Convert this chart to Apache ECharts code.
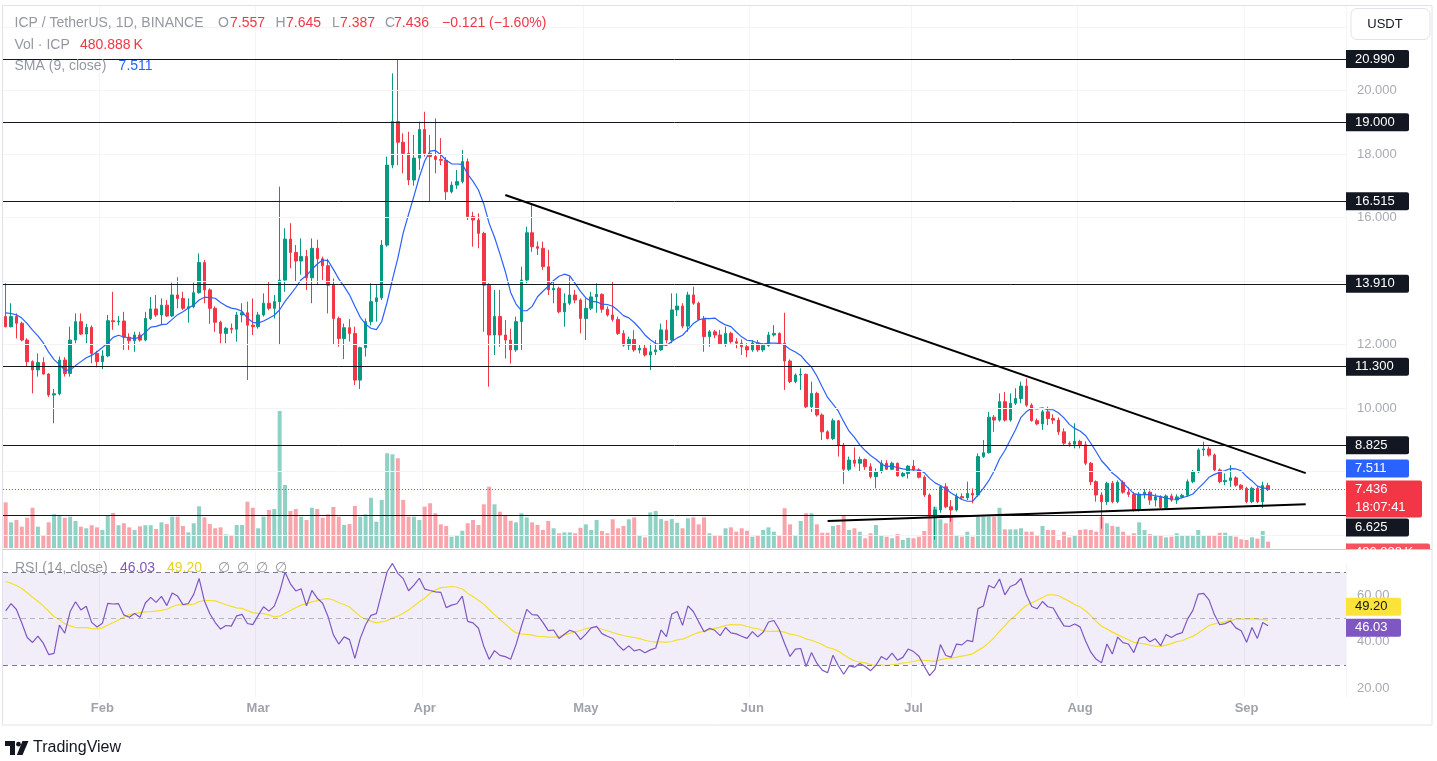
<!DOCTYPE html>
<html><head><meta charset="utf-8">
<script src="https://cdn.jsdelivr.net/npm/echarts@6/dist/echarts.min.js"></script>
<style>html,body{margin:0;padding:0;background:#fff;}#c{width:1437px;height:761px;}</style>
</head><body><div id="c"></div>
<script>
// ---------- data ----------
const startDate = '2024-01-14';
const totalDays = 250; // trading days plus empty future days on the time axis
const open = [
12.88,12.56,12.88,12.67,12.14,11.46,11.20,11.43,11.07,10.41,
10.45,11.51,11.09,12.14,12.72,12.33,12.54,11.72,11.46,11.64,
12.75,12.72,12.74,12.23,12.12,12.30,12.14,12.82,13.12,12.93,
13.24,12.90,13.56,13.45,13.14,13.19,13.63,14.58,13.72,13.14,
12.70,12.35,12.51,12.48,12.93,13.00,12.61,12.56,12.93,13.30,
13.14,13.35,14.03,15.32,14.90,14.63,14.77,14.10,15.03,14.70,
14.48,13.87,12.82,12.19,12.53,12.35,10.88,11.90,12.72,13.35,
13.47,15.13,17.65,19.02,18.37,18.02,17.18,17.87,18.77,18.02,
17.92,17.83,17.80,16.81,17.02,17.13,17.76,16.03,15.92,15.50,
13.87,12.30,12.88,12.30,12.14,11.83,12.72,14.03,15.52,15.08,
15.03,14.45,13.72,13.77,13.03,13.30,13.56,13.40,12.82,13.14,
13.50,13.58,13.11,12.93,12.79,12.35,11.98,12.16,11.83,11.88,
11.67,11.77,11.83,12.46,12.14,13.09,13.21,12.58,13.56,13.30,
12.79,12.25,12.40,12.30,12.02,12.35,12.09,12.04,11.93,11.83,
12.05,11.83,11.97,12.30,12.35,12.04,11.48,10.83,11.04,11.06,
10.04,10.46,9.78,9.25,9.04,9.60,8.83,8.07,8.36,8.26,
8.38,8.15,7.84,8.00,8.26,8.07,8.26,7.86,7.94,8.17,
8.05,7.82,7.26,6.63,6.79,7.52,6.89,6.79,7.21,7.17,
7.31,7.26,8.47,8.59,9.71,9.62,10.20,9.62,10.15,10.30,
10.69,10.09,9.60,9.50,9.88,9.67,9.62,9.25,8.89,8.86,
8.95,8.84,8.26,7.68,7.26,7.05,7.63,7.05,7.66,7.35,
7.28,6.79,7.29,7.35,7.10,7.20,6.87,7.23,7.10,7.20,
7.25,7.68,7.99,8.68,8.71,8.52,8.05,7.68,7.72,7.80,
7.57,7.47,7.05,7.47,7.05,7.557];
const high = [
13.93,13.30,12.98,12.72,12.20,11.50,11.72,11.60,11.10,10.60,
11.62,11.60,12.56,12.98,12.98,12.65,12.60,11.80,11.82,12.93,
13.66,12.90,13.03,12.35,12.40,12.40,13.03,13.50,13.56,13.45,
13.40,13.95,14.12,13.66,13.45,13.95,14.87,14.66,13.77,13.20,
12.75,12.55,12.66,13.03,13.30,13.35,13.45,13.03,13.61,13.98,
13.56,16.97,15.66,15.82,15.13,15.34,14.98,15.34,15.30,14.77,
14.70,14.08,12.88,12.66,12.80,12.56,11.93,12.82,13.93,13.87,
15.29,17.92,20.54,20.99,18.65,18.70,18.60,19.02,19.33,18.60,
19.12,18.50,17.90,17.13,17.50,18.13,17.86,16.18,16.13,15.55,
13.93,13.72,13.72,12.77,12.50,12.88,14.45,15.71,16.39,15.24,
15.24,14.98,14.03,13.82,13.61,14.14,13.72,13.45,13.45,13.66,
13.93,13.61,13.20,13.98,12.88,12.45,12.25,12.45,12.00,12.00,
12.03,12.14,12.66,12.77,13.61,13.61,13.30,13.66,13.82,13.35,
12.90,12.46,12.46,12.46,12.56,12.40,12.20,12.16,12.04,12.14,
12.14,12.04,12.40,12.61,12.38,13.00,11.53,11.09,11.25,11.09,
10.83,10.51,9.83,9.30,9.67,9.62,8.90,8.47,8.76,8.47,
8.41,8.26,8.10,8.36,8.36,8.31,8.28,8.00,8.20,8.36,
8.10,7.88,7.31,6.89,7.57,7.63,7.10,7.31,7.31,7.68,
7.47,8.57,8.99,9.88,9.78,10.46,10.50,10.46,10.62,10.83,
10.93,10.15,9.67,9.94,10.04,9.80,9.70,9.36,8.95,9.52,
9.00,8.95,8.30,7.72,7.35,7.68,7.70,7.72,7.72,7.50,
7.35,7.35,7.45,7.40,7.30,7.25,7.28,7.30,7.28,7.30,
7.75,8.05,8.73,8.94,8.78,8.57,8.10,7.94,8.20,7.85,
7.60,7.52,7.52,7.52,7.68,7.645];
const low = [
12.54,12.54,12.19,12.10,11.30,10.46,10.99,11.05,10.35,9.52,
10.40,10.99,10.99,12.04,12.30,12.04,11.41,11.28,11.23,11.60,
12.46,12.60,11.83,11.83,11.77,12.09,12.10,12.77,12.87,12.61,
12.87,12.87,13.14,13.09,12.69,13.14,13.60,13.30,12.65,12.40,
12.04,12.04,12.35,12.09,12.70,10.88,12.30,12.50,12.88,13.08,
12.82,11.98,13.66,14.40,13.98,14.20,13.72,13.30,13.87,14.03,
12.98,11.98,11.93,11.54,12.09,10.72,10.60,11.62,12.60,12.72,
13.40,15.08,17.55,17.65,17.39,17.02,17.00,17.50,17.92,16.50,
17.39,17.65,16.55,16.76,16.90,17.07,15.92,15.08,15.03,12.40,
10.67,11.67,11.93,11.56,11.40,11.77,11.83,13.93,14.92,14.82,
14.35,13.56,13.30,12.98,12.56,13.24,13.30,12.35,12.14,13.08,
13.00,13.00,12.88,12.72,12.30,11.93,11.83,11.77,11.72,11.62,
11.20,11.67,11.80,12.04,12.04,12.90,12.51,12.40,13.25,12.77,
11.77,11.93,12.20,11.98,11.93,12.03,11.88,11.67,11.60,11.77,
11.77,11.77,11.93,12.25,11.98,10.57,10.78,10.78,10.57,9.99,
9.88,9.73,8.99,9.01,8.99,8.47,7.61,8.00,8.15,8.00,
8.05,7.78,7.47,7.94,8.05,8.05,7.84,7.82,7.78,8.00,
7.78,7.20,6.58,5.85,6.70,6.84,6.42,6.74,7.12,7.10,
7.00,7.20,8.43,8.57,9.25,9.57,9.57,9.57,10.09,10.15,
10.04,9.57,9.46,9.31,9.46,9.50,9.15,8.84,8.78,8.73,
8.73,8.20,7.57,7.05,6.20,6.95,7.00,7.00,7.30,7.20,
6.74,6.74,7.15,6.95,6.90,6.80,6.82,7.05,6.98,7.15,
7.20,7.63,7.95,8.49,8.47,8.00,7.63,7.57,7.52,7.52,
7.42,7.00,7.00,7.00,6.85,7.387];
const close = [
12.56,12.88,12.67,12.14,11.46,11.20,11.43,11.07,10.41,10.45,
11.51,11.09,12.14,12.72,12.33,12.54,11.72,11.46,11.64,12.75,
12.72,12.74,12.23,12.12,12.30,12.14,12.82,13.12,12.93,13.24,
12.90,13.56,13.45,13.14,13.19,13.63,14.58,13.72,13.14,12.70,
12.35,12.51,12.48,12.93,13.00,12.61,12.56,12.93,13.30,13.14,
13.35,14.03,15.32,14.90,14.63,14.77,14.10,15.03,14.70,14.48,
13.87,12.82,12.19,12.53,12.35,10.88,11.90,12.72,13.35,13.47,
15.13,17.65,19.02,18.37,18.02,17.18,17.87,18.77,18.02,17.92,
17.83,17.80,16.81,17.02,17.13,17.76,16.03,15.92,15.50,13.87,
12.30,12.88,12.30,12.14,11.83,12.72,14.03,15.52,15.08,15.03,
14.45,13.72,13.77,13.03,13.30,13.56,13.40,12.82,13.14,13.50,
13.58,13.11,12.93,12.79,12.35,11.98,12.16,11.83,11.88,11.67,
11.77,11.83,12.46,12.14,13.09,13.21,12.58,13.56,13.30,12.79,
12.25,12.40,12.30,12.02,12.35,12.09,12.04,11.93,11.83,12.05,
11.83,11.97,12.30,12.35,12.04,11.48,10.83,11.04,11.06,10.04,
10.46,9.78,9.25,9.04,9.60,8.83,8.07,8.36,8.26,8.38,
8.15,7.84,8.00,8.26,8.07,8.26,7.86,7.94,8.17,8.05,
7.82,7.26,6.63,6.79,7.52,6.89,6.79,7.21,7.17,7.31,
7.26,8.47,8.59,9.71,9.62,10.20,9.62,10.15,10.30,10.69,
10.09,9.60,9.50,9.88,9.67,9.62,9.25,8.89,8.86,8.95,
8.84,8.26,7.68,7.26,7.05,7.63,7.05,7.66,7.35,7.28,
6.79,7.29,7.35,7.10,7.20,6.87,7.23,7.10,7.20,7.25,
7.68,7.99,8.68,8.71,8.52,8.05,7.68,7.72,7.80,7.57,
7.47,7.05,7.47,7.05,7.557,7.436];
// volume in millions of ICP
const volume = [
3.47,1.95,2.13,1.62,2.30,3.06,1.62,0.93,1.95,2.56,
2.51,2.30,2.38,2.05,1.62,1.50,1.73,1.57,1.37,2.49,
2.66,1.73,1.88,1.57,1.37,1.65,1.73,1.73,1.44,1.95,
1.82,2.38,2.38,1.67,1.19,1.88,3.17,2.33,1.82,1.50,
1.57,1.04,0.91,1.75,1.75,3.52,3.06,1.50,2.38,2.89,
2.96,10.41,4.79,2.81,2.96,2.38,2.13,3.06,2.96,2.30,
2.56,3.12,2.38,1.75,1.82,3.19,2.38,2.56,3.82,2.00,
3.65,7.20,7.12,6.82,3.65,2.38,2.38,2.13,3.14,3.40,
2.64,1.80,1.67,0.86,0.93,1.31,1.88,2.13,1.75,3.32,
4.66,3.32,2.76,2.51,2.07,1.95,2.64,2.33,1.95,1.75,
1.37,2.05,1.50,1.12,1.19,1.19,1.12,1.54,1.80,1.37,
2.13,1.29,1.12,2.18,1.50,1.67,2.18,2.33,0.91,0.81,
2.71,2.81,2.20,2.07,2.20,1.92,1.50,2.26,2.33,1.80,
2.33,1.12,0.91,0.99,1.50,1.57,1.24,1.50,1.31,0.86,
0.99,1.37,1.57,1.24,0.99,3.02,1.80,0.99,2.05,2.64,
2.64,1.80,1.16,1.16,1.67,1.75,2.51,1.37,1.50,1.24,
0.74,1.12,1.75,0.99,0.86,0.74,1.06,0.61,0.78,0.74,
0.86,1.29,2.51,3.14,2.18,1.88,2.51,0.91,0.86,1.24,
0.86,2.38,2.38,2.38,2.38,3.06,1.42,1.42,1.42,1.50,
1.24,1.24,0.99,1.67,1.37,1.37,0.61,1.24,0.81,0.99,
1.37,1.42,1.37,1.24,2.38,1.88,1.67,1.62,1.24,0.99,
1.12,1.95,1.37,1.06,0.91,0.99,0.81,0.86,1.12,0.91,
0.91,0.99,1.37,0.99,0.99,0.99,1.16,1.16,0.99,0.86,
0.66,0.61,0.81,0.71,1.29,0.481];
const levels = [20.99, 19.0, 16.515, 13.91, 11.3, 8.825, 6.625];
const priceTicks = [10, 12, 16, 18, 20];
const priceGrid = [6, 8, 10, 12, 14, 16, 18, 20, 22];
const rsiTicks = [20, 40, 60];
const rsiBands = [70, 50, 30];
const resistanceLine = [[93, 16.71], [242, 7.95]];
const supportLine = [[153, 6.44], [242, 6.97]];
const lastClose = 7.436, lastSMA = 7.511, lastRSI = 46.03, lastRSIMA = 49.20, lastVol = 0.481;
const countdown = '18:07:41';
// pre-chart levels (indicator warm-up)
const smaSeed = 13.05, rsiSeedGain = 0.2, rsiSeedLoss = 0.15, rsiMaSeed = 67;

// ---------- derived ----------
const months = ['Jan','Feb','Mar','Apr','May','Jun','Jul','Aug','Sep','Oct','Nov','Dec'];
const dates = [];
(function(){ const d0 = new Date(startDate + 'T00:00:00Z');
  for (let i = 0; i < totalDays; i++) dates.push(new Date(d0.getTime() + i*86400000).toISOString().slice(0,10)); })();
const sma9 = close.map((c,i)=>{ let s=0,n=0; for(let k=Math.max(0,i-8);k<=i;k++){s+=close[k];n++;} return +((s+(9-n)*smaSeed)/9).toFixed(4); });
const rsi = (function(){ let ag=rsiSeedGain, al=rsiSeedLoss; return close.map((c,i)=>{ const prev = i===0?open[0]:close[i-1]; const ch=c-prev;
  ag=(ag*13+Math.max(ch,0))/14; al=(al*13+Math.max(-ch,0))/14; return +(100-100/(1+ag/al)).toFixed(2); }); })();
const rsiMa = rsi.map((r,i)=>{ let s=0,n=0; for(let k=Math.max(0,i-13);k<=i;k++){s+=rsi[k];n++;} return +((s+(14-n)*rsiMaSeed)/14).toFixed(2); });

const UP='#089981', DOWN='#f23645';
const FONT='"Liberation Sans", Arial, sans-serif';
const firstOfMonth = (idx, val) => typeof val === 'string' && val.slice(8,10) === '01';

const chart = echarts.init(document.getElementById('c'));
const option = {
  animation:false, backgroundColor:'#ffffff',
  grid:[{left:3, top:6, width:1343, height:542},{left:3, top:551, width:1343, height:146}],
  xAxis:[
    {type:'category', gridIndex:0, data:dates, boundaryGap:true, axisLine:{show:false}, axisTick:{show:false}, axisLabel:{show:false},
     splitLine:{show:true, interval:firstOfMonth, lineStyle:{color:'#f3f4f7'}}},
    {type:'category', gridIndex:1, data:dates, boundaryGap:true, axisLine:{show:false}, axisTick:{show:false},
     axisLabel:{show:true, interval:firstOfMonth, formatter:v=>months[+v.slice(5,7)-1], color:'#a0a3ab', fontSize:13, fontWeight:'bold', fontFamily:FONT, margin:5},
     splitLine:{show:true, interval:firstOfMonth, lineStyle:{color:'#f3f4f7'}}}
  ],
  yAxis:[
    {type:'value', gridIndex:0, position:'right', min:5.591, max:22.661, axisLine:{show:false}, axisTick:{show:false}, splitLine:{show:false},
     axisLabel:{customValues:priceTicks, formatter:v=>v.toFixed(3), color:'#a8abb3', fontSize:13, fontFamily:FONT, margin:11, align:'left'}},
    {type:'value', gridIndex:0, min:0, max:41.19, show:false},
    {type:'value', gridIndex:1, position:'right', min:16.2, max:79.2, axisLine:{show:false}, axisTick:{show:false}, splitLine:{show:false},
     axisLabel:{customValues:rsiTicks, formatter:v=>v.toFixed(2), color:'#a8abb3', fontSize:13, fontFamily:FONT, margin:11, align:'left'}}
  ],
  series:[
    {type:'line', xAxisIndex:0, yAxisIndex:0, data:[], z:0, silent:true,
     markLine:{silent:true, symbol:['none','none'], label:{show:false}, lineStyle:{color:'#f3f4f7', width:1, type:'solid'},
       data: priceGrid.map(v=>({yAxis:v}))}},
    {type:'bar', name:'Vol', xAxisIndex:0, yAxisIndex:1, barWidth:4, z:1, silent:true,
     data: volume.map((v,i)=>({value:v, itemStyle:{color: close[i]>=open[i] ? 'rgba(8,153,129,0.45)' : 'rgba(242,54,69,0.45)'}}))},
    {type:'candlestick', xAxisIndex:0, yAxisIndex:0, barWidth:3, z:3, silent:true,
     data: open.map((o,i)=>[o, close[i], low[i], high[i]]),
     itemStyle:{color:UP, color0:DOWN, borderColor:UP, borderColor0:DOWN, borderWidth:1},
     markLine:{silent:true, symbol:['none','none'], label:{show:false}, animation:false,
       data: levels.map(v=>({yAxis:v, lineStyle:{color:'#131722', width:1, type:'solid'}}))
             .concat([{yAxis:lastClose, lineStyle:{color:DOWN, width:1, type:[1,2]}}])}},
    {type:'line', name:'SMA', xAxisIndex:0, yAxisIndex:0, data:sma9, showSymbol:false, symbol:'none', z:4, silent:true,
     lineStyle:{color:'#2962ff', width:1.2}},
    {type:'line', xAxisIndex:0, yAxisIndex:0, data:resistanceLine, showSymbol:false, symbol:'none', z:5, silent:true, lineStyle:{color:'#000', width:2}},
    {type:'line', xAxisIndex:0, yAxisIndex:0, data:supportLine, showSymbol:false, symbol:'none', z:5, silent:true, lineStyle:{color:'#000', width:2}},
    {type:'line', name:'RSI', xAxisIndex:1, yAxisIndex:2, data:rsi, showSymbol:false, symbol:'none', z:4, silent:true,
     lineStyle:{color:'#7e57c2', width:1.2},
     markArea:{silent:true, itemStyle:{color:'rgba(126,87,194,0.1)'}, data:[[{yAxis:30},{yAxis:70}]]},
     markLine:{silent:true, symbol:['none','none'], label:{show:false},
       data: rsiBands.map(v=>({yAxis:v, lineStyle:{color:'#787b86', width:1, type:[5,4], opacity: v===50?0.5:1}}))}},
    {type:'line', name:'RSI MA', xAxisIndex:1, yAxisIndex:2, data:rsiMa, showSymbol:false, symbol:'none', z:3, silent:true,
     lineStyle:{color:'#f4df2b', width:1.2}}
  ]
};
chart.setOption(option);

// ---------- text, tags and frame ----------
const G = [];
const txt = (x,y,t,fill,size,opt) => G.push(Object.assign({type:'text', x, y, z:20, silent:true,
  style:{text:t, fill, font:(opt&&opt.weight?opt.weight+' ':'')+size+'px '+FONT, align:(opt&&opt.align)||'left', verticalAlign:'middle'}}));
const rect = (x,y,w,h,fill,z,extra) => G.push({type:'rect', z:z||15, silent:true, shape:Object.assign({x,y,width:w,height:h}, extra&&extra.r?{r:extra.r}:{}),
  style:Object.assign({fill}, extra&&extra.stroke?{stroke:extra.stroke, lineWidth:1}:{})});

const GRAY='#9598a1';
// legend rows
txt(14.5,23,'ICP / TetherUS, 1D, BINANCE',GRAY,14);
txt(218,23,'O',GRAY,14); txt(230,23,'7.557',DOWN,14);
txt(275.5,23,'H',GRAY,14); txt(286,23,'7.645',DOWN,14);
txt(332,23,'L',GRAY,14); txt(340,23,'7.387',DOWN,14);
txt(385,23,'C',GRAY,14); txt(394,23,'7.436',DOWN,14);
txt(442,23,'\u22120.121 (\u22121.60%)',DOWN,14);
txt(14.5,45,'Vol \u00b7 ICP',GRAY,14); txt(80,45,'480.888\u2009K',DOWN,14);
txt(14.5,66.5,'SMA (9, close)',GRAY,14); txt(118.6,66.5,'7.511','#2962ff',14);
txt(15,568,'RSI (14, close)',GRAY,14); txt(120,568,'46.03','#7e57c2',14); txt(167,568,'49.20','#e8d31c',14);
[218,237,256,275].forEach(x=>txt(x,568,'\u2205',GRAY,14));

// price-axis tags, pushed apart where they would overlap (like the original)
const py = v => chart.convertToPixel({yAxisIndex:0}, v);
const redY = py(lastClose), redTop = redY-9, redBot = redY+28;
const tags = levels.map(v=>({v, y:py(v), bg:'#131722', fg:'#fff', w:63, t:v.toFixed(3)}));
tags.push({v:lastSMA, y:py(lastSMA), bg:'#2962ff', fg:'#fff', w:63, t:lastSMA.toFixed(3)});
tags.forEach(t=>{ if (t.y+9 > redTop-2 && t.y-9 < redBot+1) t.y = t.v>lastClose ? redTop-3-9 : redBot+1+9; });
// volume tag: pushed below the lowest tag, mostly hidden under the pane border
const lowest = Math.max(...tags.map(t=>t.y));
let vy = chart.convertToPixel({yAxisIndex:1}, lastVol); if (vy-9 < lowest+9+7) vy = lowest+9+7+9;
rect(1346, vy-9, 84, 18, '#f7525f', 14, {r:[0,2,2,0]}); txt(1355, vy, '480.888\u2009K', '#fff', 13);
rect(1340, 549.5, 96, 14, '#ffffff', 16);
tags.forEach(t=>{ rect(1346, t.y-9, t.w, 18, t.bg, 17, {r:[0,2,2,0]}); txt(1355, t.y, t.t, t.fg, 13); });
rect(1346, redTop, 76, redBot-redTop, DOWN, 17, {r:[0,2,2,0]});
txt(1355, redY, lastClose.toFixed(3), '#fff', 13); txt(1355, redY+18, countdown, '#fff', 13);

// RSI tags
const ry = v => chart.convertToPixel({yAxisIndex:2}, v);
const pY = ry(lastRSI); let yY = ry(lastRSIMA);
if (yY+9 > pY-9-3) yY = pY-9-3-9;
rect(1346, pY-9, 55, 18, '#7e57c2', 17, {r:[0,2,2,0]}); txt(1355, pY, lastRSI.toFixed(2), '#fff', 13);
rect(1346, yY-9, 55, 18, '#fbe33a', 17, {r:[0,2,2,0]}); txt(1355, yY, lastRSIMA.toFixed(2), '#131722', 13);

// frame, separator, currency button, logo
G.push({type:'line', z:18, silent:true, shape:{x1:2.5,y1:549.5,x2:1432,y2:549.5}, style:{stroke:'#c9ccd3', lineWidth:1}});
G.push({type:'rect', z:19, silent:true, shape:{x:2.5,y:5.5,width:1429.5,height:719.5}, style:{fill:'none', stroke:'#e0e3eb', lineWidth:1}});
rect(1351, 8.5, 79, 31, '#ffffff', 18, {r:6, stroke:'#e0e3eb'});
txt(1385, 24, 'USDT', '#131722', 13, {align:'center'});
G.push({type:'polygon', z:20, silent:true, shape:{points:[[5,741],[15,741],[15,755],[10,755],[10,746],[5,746]]}, style:{fill:'#131722'}});
G.push({type:'circle', z:20, silent:true, shape:{cx:18.5, cy:744.2, r:2.4}, style:{fill:'#131722'}});
G.push({type:'polygon', z:20, silent:true, shape:{points:[[22.5,741],[28.5,741],[22.5,755],[16.8,755]]}, style:{fill:'#131722'}});
txt(33, 748, 'TradingView', '#131722', 16);

chart.setOption({graphic: G});
</script></body></html>
